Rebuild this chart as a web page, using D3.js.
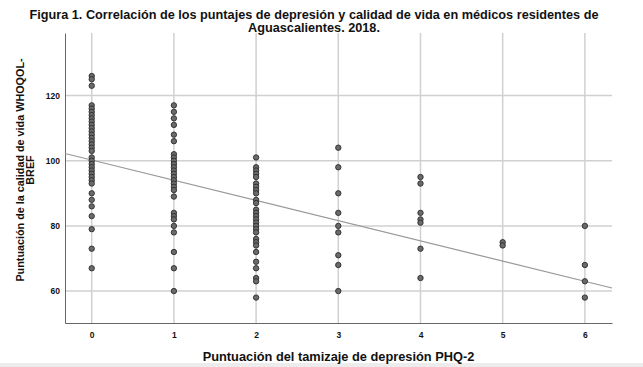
<!DOCTYPE html>
<html><head><meta charset="utf-8">
<script src="https://cdn.jsdelivr.net/npm/d3@7"></script>
<style>
html,body{margin:0;padding:0;background:#fff;}
svg{display:block;}
text{font-family:"Liberation Sans",Arial,sans-serif;font-weight:bold;fill:#111;}
</style></head>
<body>
<script>
// ---- data ----
const categories = [0, 1, 2, 3, 4, 5, 6];
const score0 = [126,125,123,117,116,115,114,113,112,111,110,109,108,107,106,105,104,103,101,100,99,98,97,96,95,94,93,90,88,86,83,79,73,67];
const score1 = [117,115,113,111,108,106,102,101,100,99,98,97,96,95,94,93,92,91,89,84,83,82,80,78,72,67,60];
const score2 = [101,98,97,96,95,93,92,91,90,88,87,85,84,83,82,81,80,79,78,76,75,74,72,69,67,64,63,58];
const score3 = [104,98,90,84,80,78,71,68,60];
const score4 = [95,93,84,82,81,73,64];
const score5 = [75,74];
const score6 = [80,68,63,58];
const yTicks = [60, 80, 100, 120];
const fitIntercept = [100.2];
const fitSlope = [-6.2];
const titleLines = ["Figura 1. Correlación de los puntajes de depresión y calidad de vida en médicos residentes de", "Aguascalientes. 2018."];
const yTitleLines = ["Puntuación de la calidad de vida WHOQOL-", "BREF"];
const xTitle = "Puntuación del tamizaje de depresión PHQ-2";

const seriesByCat = [score0, score1, score2, score3, score4, score5, score6];
const points = [];
categories.forEach((c, i) => seriesByCat[i].forEach(v => points.push({x: c, y: v})));

// ---- layout ----
const W = 643, H = 367;
const svg = d3.select("body").append("svg").attr("width", W).attr("height", H);
svg.append("rect").attr("x", 0).attr("y", 0).attr("width", W).attr("height", H).attr("fill", "#fff");
svg.append("rect").attr("x", 0).attr("y", 363).attr("width", W).attr("height", H - 363).attr("fill", "#ececec");

const plotL = 65, plotR = 612, plotT = 33, plotB = 323;
const x = d3.scaleLinear().domain([-0.325, 6.33]).range([plotL, plotR]);
const y = d3.scaleLinear().domain([50.2, 139.2]).range([plotB, plotT]);

// gridlines
svg.append("g").selectAll("line.vg").data(categories).join("line")
  .attr("x1", d => x(d)).attr("x2", d => x(d)).attr("y1", plotT).attr("y2", plotB)
  .attr("stroke", "#d0d0d0").attr("stroke-width", 1.5);
svg.append("g").selectAll("line.hg").data(yTicks).join("line")
  .attr("x1", plotL).attr("x2", plotR).attr("y1", d => y(d)).attr("y2", d => y(d))
  .attr("stroke", "#d0d0d0").attr("stroke-width", 1.5);

// axes
const xAxis = d3.axisBottom(x).tickValues(categories).tickSize(0).tickPadding(9).tickFormat(d3.format("d"));
const gx = svg.append("g").attr("transform", `translate(0,${plotB})`).call(xAxis);
gx.select(".domain").attr("stroke", "#666").attr("stroke-width", 1);
gx.selectAll("text").attr("font-size", 8.5).attr("font-family", "Liberation Sans, Arial, sans-serif").attr("font-weight", "bold").attr("fill", "#111");

const yAxis = d3.axisLeft(y).tickValues(yTicks).tickSize(0).tickPadding(5).tickFormat(d3.format("d"));
const gy = svg.append("g").attr("transform", `translate(${plotL},0)`).call(yAxis);
gy.select(".domain").attr("stroke", "#666").attr("stroke-width", 1);
gy.selectAll("text").attr("font-size", 8.5).attr("font-family", "Liberation Sans, Arial, sans-serif").attr("font-weight", "bold").attr("fill", "#111");

// fit line
const xd = x.domain();
svg.append("line")
  .attr("x1", x(xd[0])).attr("y1", y(fitIntercept[0] + fitSlope[0] * xd[0]))
  .attr("x2", x(xd[1])).attr("y2", y(fitIntercept[0] + fitSlope[0] * xd[1]))
  .attr("stroke", "#999").attr("stroke-width", 1.2);

// points
svg.append("g").selectAll("circle").data(points).join("circle")
  .attr("cx", d => x(d.x)).attr("cy", d => y(d.y)).attr("r", 2.7)
  .attr("fill", "#6a6a6a").attr("stroke", "#2b2b2b").attr("stroke-width", 0.9);

// titles
svg.append("text").attr("x", 314).attr("y", 18.5).attr("text-anchor", "middle").attr("font-size", 12.7).text(titleLines[0]);
svg.append("text").attr("x", 314).attr("y", 32).attr("text-anchor", "middle").attr("font-size", 12.7).text(titleLines[1]);

svg.append("text").attr("x", (plotL + plotR) / 2).attr("y", 361).attr("text-anchor", "middle").attr("font-size", 12.8).text(xTitle);

yTitleLines.forEach((t, i) => {
  svg.append("text").attr("transform", `translate(${24 + i * 10},170) rotate(-90)`)
    .attr("text-anchor", "middle").attr("font-size", 10.8).text(t);
});
</script>
</body></html>
